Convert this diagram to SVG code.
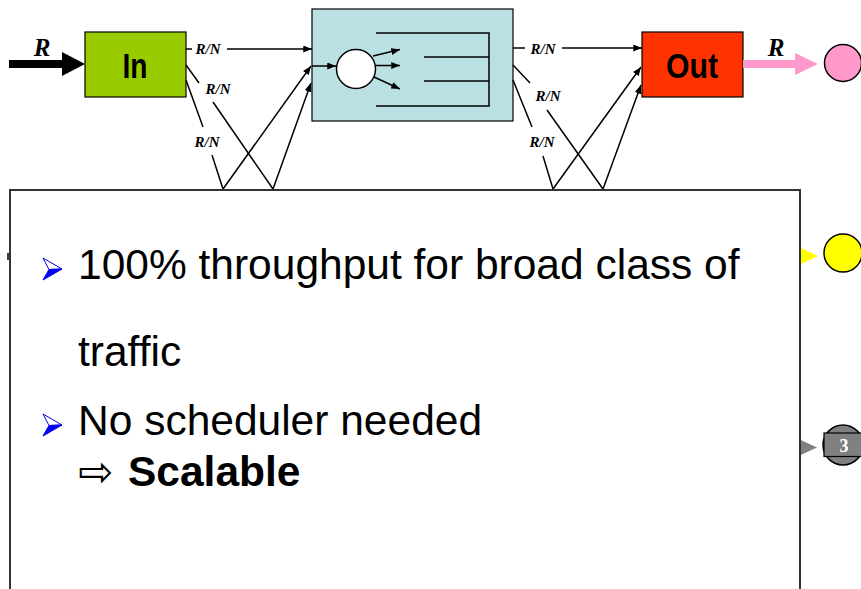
<svg xmlns="http://www.w3.org/2000/svg" width="861" height="589" viewBox="0 0 861 589">
  <style>
    .box { stroke: #000; stroke-width: 1.2; }
    .lbl { font-family: "Liberation Serif", "Times New Roman", serif; font-weight: bold; font-style: italic; fill: #000; }
    .rn { font-size: 15px; text-anchor: middle; }
    .big { font-size: 25px; text-anchor: middle; }
    .name { font-family: "Liberation Sans", Arial, sans-serif; font-weight: bold; font-size: 35px; text-anchor: middle; fill: #000; }
    .wire { fill: none; stroke: #000; stroke-width: 1.5; }
    .arr { marker-end: url(#ah); }
    .body { font-family: "Liberation Sans", Arial, sans-serif; font-size: 42.5px; fill: #000; }
  </style>
  <defs>
    <marker id="ah" viewBox="0 0 10 8" refX="10" refY="4" markerWidth="9" markerHeight="7" markerUnits="userSpaceOnUse" orient="auto">
      <path d="M0,0 L10,4 L0,8 z" fill="#000"/>
    </marker>
    <!-- two-tone arrowhead bullet -->
    <g id="bullet">
      <path d="M0,0 L19,11 L6,11.5 z" fill="#fff" stroke="#0000ee" stroke-width="1"/>
      <path d="M6,11.5 L19,11 L0,22 z" fill="#0000ee" stroke="#0000ee" stroke-width="1"/>
    </g>
  </defs>

  <rect width="861" height="589" fill="#fff"/>

  <!-- input line -->
  <g id="input">
    <path d="M9,60 H62 V52 L85,64 L62,76 V68 H9 z" fill="#000"/>
    <text class="lbl big" x="42" y="56">R</text>
  </g>

  <g id="in">
    <rect class="box" x="85" y="32" width="101" height="65" fill="#99cc00"/>
    <text class="name" x="135" y="78" textLength="25" lengthAdjust="spacingAndGlyphs">In</text>
  </g>

  <g id="fabric">
    <rect class="box" x="312" y="9" width="201" height="112" fill="#bbe0e3"/>
    <circle cx="356" cy="69" r="19.5" fill="#fff" stroke="#000" stroke-width="1.5"/>
    <path class="wire" d="M376,33 H489 V106 H376 M424,57 H489 M424,81 H489"/>
  </g>

  <g id="out">
    <rect class="box" x="642" y="32" width="101" height="65" fill="#ff3300"/>
    <text class="name" x="692" y="78" textLength="52" lengthAdjust="spacingAndGlyphs">Out</text>
  </g>

  <g id="output">
    <path d="M743,60 H795 V53 L818,64 L795,75 V68 H743 z" fill="#ff99cc"/>
    <text class="lbl big" x="776" y="56">R</text>
  </g>

  <g id="dest-pink">
    <circle cx="843" cy="63" r="18.5" fill="#ff99cc" stroke="#000" stroke-width="1.5"/>
  </g>

  <g id="dest-yellow">
    <path d="M790,243 L818,256 L790,269 z" fill="#ffff00"/>
    <circle cx="843" cy="253" r="19" fill="#ffff00" stroke="#000" stroke-width="1.5"/>
  </g>

  <g id="dest-3">
    <path d="M790,435 L817,447.5 L790,460 z" fill="#808080"/>
    <circle cx="843" cy="445" r="20" fill="#808080" stroke="#000" stroke-width="1.5"/>
    <rect x="824" y="433" width="45" height="23.5" fill="#808080" stroke="#000" stroke-width="1.2"/>
    <text x="844" y="452" font-family="Liberation Serif, Times New Roman, serif" font-weight="bold" font-size="18" fill="#fff" text-anchor="middle">3</text>
  </g>

  <g id="connectors">
    <!-- In to fabric -->
    <path class="wire" d="M186,49 H192"/>
    <path class="wire arr" d="M227,49 H312"/>
    <path class="wire" d="M186,65 L199,83 M213,102 L273,189"/>
    <path class="wire" d="M186,80 L203,127 M212,155 L223,189"/>
    <path class="wire arr" d="M223,189 L311,66"/>
    <path class="wire arr" d="M273,189 L311,83"/>
    <!-- inside fabric -->
    <path class="wire arr" d="M312,66 H336"/>
    <path class="wire arr" d="M373,56 L400,49.5"/>
    <path class="wire arr" d="M376,65.5 H400"/>
    <path class="wire arr" d="M374,77 L400,89"/>
    <!-- fabric to Out -->
    <path class="wire" d="M513,48 H525"/>
    <path class="wire arr" d="M562,48 H642"/>
    <path class="wire" d="M513,65 L530,83 M547,110 L603,189"/>
    <path class="wire" d="M513,80 L532,127 M543,156 L553,189"/>
    <path class="wire arr" d="M553,189 L641,67"/>
    <path class="wire arr" d="M603,189 L641,85"/>
    <!-- rate labels -->
    <text class="lbl rn" x="208" y="54">R/N</text>
    <text class="lbl rn" x="218" y="94">R/N</text>
    <text class="lbl rn" x="207" y="147">R/N</text>
    <text class="lbl rn" x="543" y="54">R/N</text>
    <text class="lbl rn" x="548" y="101">R/N</text>
    <text class="lbl rn" x="542" y="147">R/N</text>
  </g>

  <!-- text panel -->
  <g id="panel">
    <path d="M8,253 V260" stroke="#000" stroke-width="1.5"/>
    <rect x="10" y="190" width="790" height="420" fill="#fff" stroke="#333" stroke-width="2"/>
    <use href="#bullet" x="43" y="258"/>
    <text class="body" x="78" y="279">100% throughput for broad class of</text>
    <text class="body" x="78" y="366">traffic</text>
    <use href="#bullet" x="43" y="414"/>
    <text class="body" x="78" y="435">No scheduler needed</text>
    <text class="body" x="78" y="486"><tspan font-family="DejaVu Sans, sans-serif" font-size="42">⇨</tspan><tspan x="128" font-weight="bold">Scalable</tspan></text>
  </g>
</svg>
